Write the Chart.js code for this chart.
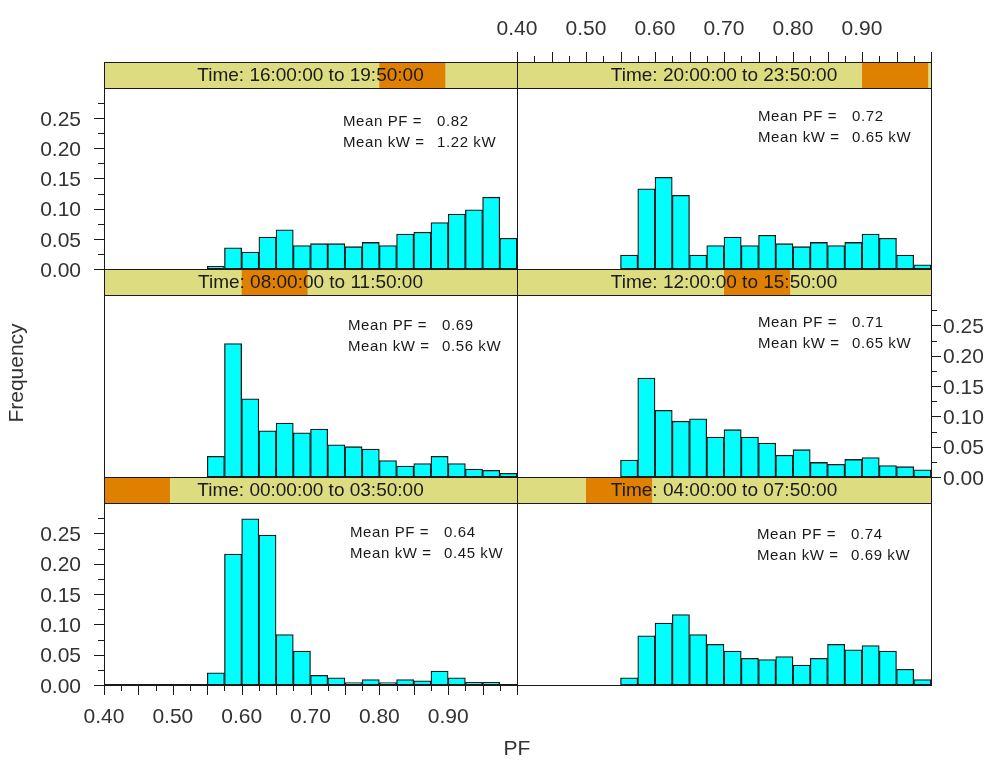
<!DOCTYPE html>
<html>
<head>
<meta charset="utf-8">
<title>PF distribution by time of day</title>
<script src="https://cdn.jsdelivr.net/npm/chart.js@4.4.1/dist/chart.umd.min.js"></script>
<style>
  html, body { margin: 0; padding: 0; background: #ffffff; }
  #wrap { position: relative; width: 1000px; height: 765px; }
  #wrap canvas { position: absolute; left: 0; top: 0; }
</style>
</head>
<body>
<div id="wrap"></div>
<script>
/* ===================================
   DATA
   Histogram bins run 0.40 - 1.00, 0.025 wide (lower edges listed).
   =================================== */

const BIN_EDGES = [
  0.400, 0.425, 0.450, 0.475, 0.500, 0.525, 0.550, 0.575,
  0.600, 0.625, 0.650, 0.675, 0.700, 0.725, 0.750, 0.775,
  0.800, 0.825, 0.850, 0.875, 0.900, 0.925, 0.950, 0.975,
];
const BIN_WIDTH = 0.025;

const PF_TICKS = ['0.40', '0.50', '0.60', '0.70', '0.80', '0.90'];
const FREQ_TICKS = ['0.00', '0.05', '0.10', '0.15', '0.20', '0.25'];

const PERIODS = [
  '00:00:00 to 03:50:00',
  '04:00:00 to 07:50:00',
  '08:00:00 to 11:50:00',
  '12:00:00 to 15:50:00',
  '16:00:00 to 19:50:00',
  '20:00:00 to 23:50:00',
];
const MEAN_PF = [0.64, 0.74, 0.69, 0.71, 0.82, 0.72];
const MEAN_KW = [0.45, 0.69, 0.56, 0.65, 1.22, 0.65];

const freq0000 = [0, 0, 0, 0, 0, 0,
  0.020, 0.216, 0.274, 0.247, 0.083, 0.056, 0.016, 0.012, 0.004,
  0.009, 0.004, 0.009, 0.007, 0.023, 0.012, 0.0045, 0.0045, 0];
const freq0400 = [0, 0, 0, 0, 0, 0,
  0.012, 0.081, 0.102, 0.116, 0.083, 0.067, 0.056, 0.044, 0.042,
  0.047, 0.033, 0.044, 0.067, 0.058, 0.065, 0.056, 0.026, 0.009];
const freq0800 = [0, 0, 0, 0, 0, 0,
  0.034, 0.220, 0.129, 0.076, 0.089, 0.073, 0.079, 0.053, 0.050,
  0.046, 0.027, 0.018, 0.022, 0.034, 0.022, 0.013, 0.011, 0.006];
const freq1200 = [0, 0, 0, 0, 0, 0,
  0.028, 0.163, 0.110, 0.092, 0.096, 0.066, 0.078, 0.066, 0.056,
  0.036, 0.045, 0.024, 0.021, 0.029, 0.032, 0.019, 0.017, 0.012];
const freq1600 = [0, 0, 0, 0, 0, 0,
  0.0045, 0.035, 0.028, 0.053, 0.065, 0.039, 0.042, 0.042, 0.037,
  0.044, 0.039, 0.058, 0.061, 0.077, 0.091, 0.098, 0.119, 0.051];
const freq2000 = [0, 0, 0, 0, 0, 0,
  0.023, 0.133, 0.152, 0.122, 0.023, 0.039, 0.053, 0.039, 0.056,
  0.042, 0.037, 0.044, 0.039, 0.044, 0.058, 0.051, 0.023, 0.007];

const SERIES = [freq0000, freq0400, freq0800, freq1200, freq1600, freq2000];

/* ===================================
   LOOK
   =================================== */

const FONT = '"Liberation Sans", Arial, sans-serif';
const INK = '#1a1a1a';
const LABEL = '#333333';
const BAR_FILL = '#00ffff';
const STRIP_BG = '#dedc80';
const STRIP_MARK = '#e08000';

const Y_TOP = 0.30;        // top of the plotting region under the strip
const STRIP_H = 26;
const COLS = [[104, 517], [517, 931]];
const ROWS = [[62, 269], [269, 477], [477, 685]];   // strip top .. baseline

// one entry per period: grid cell, which sides carry an axis, note offset
const LAYOUT = [
  { col: 0, row: 2, axes: ['left', 'bottom'], note: [246, 30] },
  { col: 1, row: 2, axes: [], note: [240, 32] },
  { col: 0, row: 1, axes: [], note: [244, 31] },
  { col: 1, row: 1, axes: ['right'], note: [241, 28] },
  { col: 0, row: 0, axes: ['left'], note: [239, 34] },
  { col: 1, row: 0, axes: ['top'], note: [241, 29] },
];

function hours(hms) {
  const p = hms.split(':').map(Number);
  return p[0] + p[1] / 60 + p[2] / 3600;
}

function tickLabel(list) {
  return function (v) {
    const hit = list.find(t => Math.abs(parseFloat(t) - v) < 1e-6);
    return hit || '';
  };
}

/* ===================================
   PLUGIN: strip, frame, tick marks, notes
   =================================== */

const panelDecor = {
  id: 'panelDecor',
  afterDatasetsDraw(chart, args, o) {
    const ctx = chart.ctx;
    const a = chart.chartArea;
    const L = Math.round(a.left), R = Math.round(a.right);
    const T = Math.round(a.top), B = Math.round(a.bottom);
    ctx.save();

    // strip with the time-of-day marker
    ctx.fillStyle = STRIP_BG;
    ctx.fillRect(L, T, R - L, STRIP_H);
    const x0 = L + (R - L) * o.from / 24;
    const x1 = L + (R - L) * o.to / 24;
    ctx.fillStyle = STRIP_MARK;
    ctx.fillRect(x0, T, x1 - x0, STRIP_H);
    ctx.fillStyle = INK;
    ctx.font = '19px ' + FONT;
    ctx.textAlign = 'center';
    ctx.textBaseline = 'middle';
    ctx.fillText('Time: ' + o.period, (L + R) / 2, T + STRIP_H / 2 + 1);

    // frame and strip divider
    ctx.strokeStyle = INK;
    ctx.lineWidth = 1;
    ctx.strokeRect(L + 0.5, T + 0.5, R - L, B - T);
    ctx.beginPath();
    ctx.moveTo(L, T + STRIP_H + 0.5);
    ctx.lineTo(R + 1, T + STRIP_H + 0.5);
    ctx.stroke();

    // tick marks, long every 0.05, short every 0.025
    ctx.beginPath();
    o.axes.forEach(function (side) {
      const horiz = side === 'top' || side === 'bottom';
      const scale = horiz ? chart.scales.x : chart.scales.y;
      const lo = horiz ? 0.40 : 0;
      const hi = horiz ? 1.00 : 0.275;
      for (let i = 0; lo + i * 0.025 <= hi + 1e-9; i++) {
        const p = Math.round(scale.getPixelForValue(lo + i * 0.025)) + 0.5;
        const len = i % 2 === 0 ? 10 : 6;
        if (side === 'left') { ctx.moveTo(L - len, p); ctx.lineTo(L, p); }
        if (side === 'right') { ctx.moveTo(R, p); ctx.lineTo(R + len, p); }
        if (side === 'bottom') { ctx.moveTo(p, B); ctx.lineTo(p, B + len); }
        if (side === 'top') { ctx.moveTo(p, T - len); ctx.lineTo(p, T); }
      }
    });
    ctx.stroke();

    // heavier base line along a labelled PF axis
    if (o.axes.includes('bottom')) {
      ctx.lineWidth = 2;
      ctx.beginPath();
      ctx.moveTo(L, B);
      ctx.lineTo(R + 1, B);
      ctx.stroke();
    }

    // means
    ctx.font = '15px ' + FONT;
    ctx.letterSpacing = '0.6px';
    ctx.textAlign = 'left';
    ctx.textBaseline = 'middle';
    const nx = L + o.note[0];
    const ny = T + STRIP_H + o.note[1];
    ctx.fillText('Mean PF =', nx, ny);
    ctx.fillText(o.pf.toFixed(2), nx + 94, ny);
    ctx.fillText('Mean kW =', nx, ny + 21);
    ctx.fillText(o.kw.toFixed(2) + ' kW', nx + 94, ny + 21);
    ctx.letterSpacing = '0px';

    // figure-wide axis titles
    if (o.titles) {
      ctx.fillStyle = LABEL;
      ctx.font = '21px ' + FONT;
      ctx.textAlign = 'center';
      ctx.fillText('PF', 517, 749);
      ctx.translate(17, 373);
      ctx.rotate(-Math.PI / 2);
      ctx.fillText('Frequency', 0, 0);
    }
    ctx.restore();
  },
};

/* ===================================
   HELPER: one lattice panel
   =================================== */

function pfPanel(i) {
  const cell = LAYOUT[i];
  const [left, right] = COLS[cell.col];
  const [top, bottom] = ROWS[cell.row];
  const has = side => cell.axes.includes(side);
  const yMax = Y_TOP * (bottom - top) / (bottom - top - STRIP_H);
  const [from, to] = PERIODS[i].split(' to ').map(hours);
  const xShown = has('top') || has('bottom');
  const yShown = has('left') || has('right');
  const yWidth = has('right') ? 60 : 70;

  const canvas = document.createElement('canvas');
  canvas.width = 1000;
  canvas.height = 765;
  document.getElementById('wrap').appendChild(canvas);

  const tickFont = { family: FONT, size: 21 };

  return new Chart(canvas.getContext('2d'), {
    type: 'bar',
    data: {
      datasets: [{
        data: BIN_EDGES.map((e, k) => ({ x: e + BIN_WIDTH / 2, y: SERIES[i][k] })),
        backgroundColor: BAR_FILL,
        borderColor: INK,
        borderWidth: 1.3,
        borderSkipped: false,
        barPercentage: 1,
        categoryPercentage: 1,
      }],
    },
    options: {
      responsive: false,
      animation: false,
      devicePixelRatio: 1,
      events: [],
      layout: {
        padding: {
          left: left - (has('left') ? yWidth : 0),
          right: 1000 - right - (has('right') ? yWidth : 0),
          top: top - (has('top') ? 45 : 0),
          bottom: 765 - bottom - (has('bottom') ? 45 : 0),
        },
      },
      scales: {
        x: {
          type: 'linear',
          display: xShown,
          position: has('top') ? 'top' : 'bottom',
          min: 0.40,
          max: 1.00,
          offset: false,
          grid: { display: false, drawTicks: true, tickLength: 10, offset: false },
          border: { display: false },
          ticks: {
            stepSize: 0.1, padding: 10, maxRotation: 0, autoSkip: false,
            font: tickFont, color: LABEL, callback: tickLabel(PF_TICKS),
          },
          afterFit: s => { s.height = xShown ? 45 : 0; },
        },
        y: {
          display: yShown,
          position: has('right') ? 'right' : 'left',
          min: 0,
          max: yMax,
          grid: { display: false, drawTicks: true, tickLength: 10 },
          border: { display: false },
          ticks: {
            stepSize: 0.05, includeBounds: false, autoSkip: false,
            padding: has('right') ? 2 : 13, labelOffset: 2,
            font: tickFont, color: LABEL, callback: tickLabel(FREQ_TICKS),
          },
          afterFit: s => { s.width = yShown ? yWidth : 0; },
        },
      },
      plugins: {
        legend: { display: false },
        tooltip: { enabled: false },
        panelDecor: {
          period: PERIODS[i], from, to,
          axes: cell.axes, note: cell.note,
          pf: MEAN_PF[i], kw: MEAN_KW[i],
          titles: i === 0,
        },
      },
    },
    plugins: [panelDecor],
  });
}

PERIODS.forEach((p, i) => pfPanel(i));
</script>
</body>
</html>
